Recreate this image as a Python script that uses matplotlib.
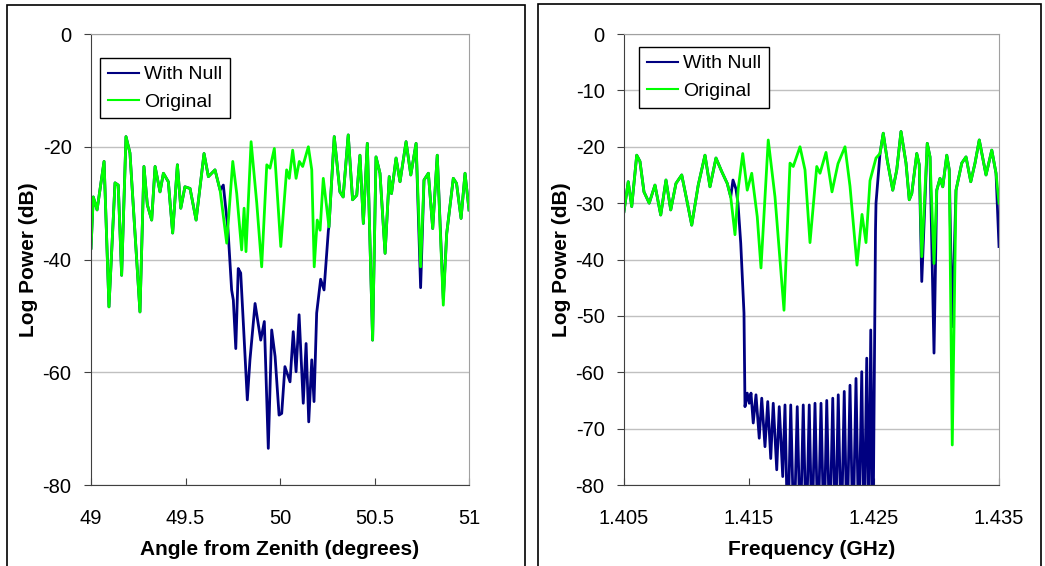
import matplotlib
matplotlib.use("Agg")
import matplotlib.pyplot as plt
from matplotlib.patches import Rectangle

plt.rcParams['font.family'] = ['Liberation Sans', 'DejaVu Sans']
plt.rcParams['axes.unicode_minus'] = False

NAVY = '#000080'
LIME = '#00ff00'

# ---- left panel: angle sweep ----
# shared start (both curves on top of each other)
ang_head = [49.000, 49.012, 49.032, 49.069, 49.095, 49.127, 49.144, 49.162, 49.185,
            49.206, 49.259, 49.280, 49.298, 49.321, 49.339, 49.365, 49.383, 49.409,
            49.432, 49.457, 49.475, 49.497, 49.524, 49.556, 49.598, 49.621, 49.656,
            49.683]
db_head = [-38.0, -28.9, -31.2, -22.6, -48.4, -26.4, -26.8, -42.8, -18.2,
           -21.1, -49.3, -23.5, -30.3, -33.0, -23.5, -28.0, -24.7, -26.2,
           -35.3, -23.2, -30.9, -27.1, -27.4, -33.0, -21.2, -25.3, -24.1,
           -27.7]

# original pattern across the null
ang_orig_mid = [49.718, 49.750, 49.771, 49.797, 49.810, 49.820, 49.847, 49.877, 49.903,
                49.930, 49.947, 49.970, 50.004, 50.035, 50.049, 50.067, 50.085, 50.102,
                50.120, 50.150, 50.168, 50.181, 50.197, 50.212, 50.229]
db_orig_mid = [-37.1, -22.6, -28.3, -38.3, -30.9, -38.6, -19.1, -30.0, -41.3,
               -23.2, -23.8, -20.3, -37.7, -24.1, -25.6, -20.6, -25.6, -22.6,
               -23.5, -20.0, -24.1, -41.3, -33.0, -34.8, -25.6]

# nulled pattern
ang_null_mid = [49.700, 49.725, 49.744, 49.753, 49.766, 49.779, 49.792, 49.806, 49.827,
                49.841, 49.868, 49.898, 49.917, 49.938, 49.956, 49.974, 49.995, 50.009,
                50.026, 50.053, 50.070, 50.085, 50.101, 50.123, 50.138, 50.152, 50.168,
                50.180, 50.194, 50.215, 50.233, 50.256]
db_null_mid = [-26.8, -34.8, -45.4, -47.2, -55.8, -41.6, -42.4, -51.3, -64.9,
               -57.8, -47.8, -54.3, -51.0, -73.5, -52.5, -57.2, -67.6, -67.3,
               -59.0, -61.7, -52.8, -59.9, -49.8, -65.5, -54.9, -68.8, -57.8,
               -65.2, -49.5, -43.5, -45.4, -34.8]

ang_tail = [50.259, 50.287, 50.317, 50.334, 50.361, 50.384, 50.406, 50.423, 50.441,
            50.462, 50.490, 50.508, 50.529, 50.556, 50.578, 50.590, 50.614, 50.635,
            50.667, 50.692, 50.720, 50.744, 50.762, 50.785, 50.808, 50.832, 50.864,
            50.882, 50.917, 50.934, 50.958, 50.979, 51.000]
db_tail_orig = [-34.2, -18.2, -28.0, -28.9, -17.9, -29.4, -28.6, -21.5, -33.6,
                -19.4, -54.3, -21.8, -24.7, -38.9, -25.3, -28.3, -22.0, -26.2,
                -19.1, -25.0, -19.4, -41.3, -25.9, -24.7, -34.5, -21.5, -48.1,
                -35.4, -25.6, -26.5, -32.7, -24.7, -31.2]
db_tail_null = [-34.2, -18.2, -28.0, -28.9, -17.9, -29.4, -28.6, -21.5, -33.6,
                -19.4, -54.3, -21.8, -24.7, -38.9, -25.3, -28.3, -22.0, -26.2,
                -19.1, -25.0, -19.4, -45.0, -25.9, -24.7, -34.5, -21.5, -47.0,
                -35.4, -25.6, -26.5, -32.7, -24.7, -31.2]

# ---- right panel: frequency sweep ----
f_head = [1.40500, 1.40534, 1.40562, 1.40602, 1.40628, 1.40660, 1.40702, 1.40748,
          1.40794, 1.40836, 1.40874, 1.40916, 1.40962, 1.41002, 1.41042, 1.41094,
          1.41148, 1.41188, 1.41236, 1.41282, 1.41326, 1.41354]
pw_head = [-31.5, -26.2, -30.6, -21.5, -22.6, -28.0, -30.0, -26.8,
           -32.1, -25.9, -31.2, -26.5, -25.0, -29.4, -33.9, -26.8,
           -21.5, -27.1, -22.0, -24.4, -26.5, -28.9]

f_orig_mid = [1.41388, 1.41414, 1.41450, 1.41486, 1.41522, 1.41566, 1.41596, 1.41654,
              1.41708, 1.41780, 1.41828, 1.41854, 1.41908, 1.41948, 1.41988, 1.42042,
              1.42068, 1.42116, 1.42164, 1.42212, 1.42268, 1.42308, 1.42364, 1.42404,
              1.42436, 1.42468, 1.42516]
pw_orig_mid = [-35.6, -27.4, -21.2, -27.7, -24.7, -32.4, -41.5, -18.8,
               -28.9, -49.0, -22.9, -23.5, -20.0, -24.1, -37.0, -23.5,
               -24.7, -21.0, -28.0, -23.0, -20.0, -27.0, -41.0, -32.0,
               -37.0, -26.0, -22.0]

f_null_mid = [1.41372, 1.41396, 1.41412, 1.41434, 1.41460, 1.41468, 1.41486, 1.41502,
              1.41516, 1.41534, 1.41556, 1.41582, 1.41602, 1.41628, 1.41650, 1.41674,
              1.41694, 1.41722, 1.41742, 1.41770, 1.41788, 1.41810, 1.41834, 1.41860,
              1.41886, 1.41910, 1.41934, 1.41958, 1.41982, 1.42004, 1.42028, 1.42052,
              1.42076, 1.42100, 1.42122, 1.42146, 1.42170, 1.42192, 1.42214, 1.42238,
              1.42262, 1.42284, 1.42308, 1.42332, 1.42356, 1.42378, 1.42402, 1.42420,
              1.42442, 1.42458, 1.42474, 1.42492, 1.42512, 1.42516]
pw_null_mid = [-25.9, -27.5, -30.0, -37.1, -49.5, -66.1, -63.7, -65.5,
               -63.7, -69.0, -64.0, -71.7, -64.6, -73.2, -65.2, -75.3,
               -65.5, -77.3, -66.1, -78.5, -65.8, -90.0, -65.8, -90.0,
               -66.1, -90.0, -65.8, -90.0, -65.8, -90.0, -65.5, -90.0,
               -65.5, -90.0, -65.0, -90.0, -64.6, -90.0, -64.0, -90.0,
               -63.4, -90.0, -62.3, -90.0, -61.1, -90.0, -59.9, -90.0,
               -57.5, -90.0, -52.5, -90.0, -34.8, -30.0]

f_tail = [1.42548, 1.42574, 1.42606, 1.42650, 1.42682, 1.42716, 1.42756, 1.42782,
          1.42802, 1.42842, 1.42862, 1.42882, 1.42926, 1.42948, 1.42980, 1.43002,
          1.43028, 1.43050, 1.43082, 1.43102, 1.43126, 1.43156, 1.43202, 1.43236,
          1.43274, 1.43308, 1.43342, 1.43396, 1.43442, 1.43476, 1.43500]
pw_tail_orig = [-21.2, -17.6, -22.4, -27.7, -24.1, -17.3, -22.9, -29.4,
                -28.3, -21.2, -23.2, -39.5, -19.4, -21.8, -40.7, -27.7,
                -25.6, -27.1, -21.5, -24.1, -72.9, -27.7, -22.9, -21.8,
                -26.2, -22.9, -18.8, -25.0, -20.6, -24.7, -30.0]
pw_tail_null = [-21.2, -17.6, -22.4, -27.7, -24.1, -17.3, -22.9, -29.4,
                -28.3, -21.2, -23.2, -43.9, -19.4, -21.8, -56.6, -27.7,
                -25.6, -27.1, -21.5, -24.1, -51.9, -27.7, -22.9, -21.8,
                -26.2, -22.9, -18.8, -25.0, -20.6, -24.7, -37.7]


def style_axes(ax, yticks, xticks, xticklabels, xlabel):
    ax.set_yticks(yticks)
    ax.set_ylim(-80, 0)
    ax.set_xticks(xticks)
    ax.set_xticklabels(xticklabels)
    ax.grid(axis='y', color='#c0c0c0', lw=1)
    ax.set_axisbelow(True)
    for side in ('top', 'right'):
        ax.spines[side].set_color('#a0a0a0')
    for side in ('left', 'bottom'):
        ax.spines[side].set_color('#404040')
    ax.tick_params(axis='y', direction='out', length=5, pad=9, labelsize=14.5, color='#404040')
    ax.tick_params(axis='x', direction='in', length=5, pad=17, labelsize=14.5, color='#404040')
    ax.set_xlabel(xlabel, fontsize=15, fontweight='bold', labelpad=9)
    ax.set_ylabel('Log Power (dB)', fontsize=15, fontweight='bold', labelpad=3)


fig = plt.figure(figsize=(10.45, 5.66), dpi=100)

# outer chart frames
fig.patches.append(Rectangle((0.0067, -0.05), 0.4957, 1.041, transform=fig.transFigure,
                             fill=False, edgecolor='black', lw=1.2))
fig.patches.append(Rectangle((0.5148, -0.05), 0.4814, 1.043, transform=fig.transFigure,
                             fill=False, edgecolor='black', lw=1.2))

ax1 = fig.add_axes([0.0871, 0.1431, 0.3617, 0.7968])
ax1.plot(ang_head + ang_null_mid + ang_tail, db_head + db_null_mid + db_tail_null,
         color=NAVY, lw=2, label='With Null')
ax1.plot(ang_head + ang_orig_mid + ang_tail, db_head + db_orig_mid + db_tail_orig,
         color=LIME, lw=2, label='Original')
ax1.set_xlim(49, 51)
style_axes(ax1, [0, -20, -40, -60, -80], [49, 49.5, 50, 50.5, 51],
           ['49', '49.5', '50', '50.5', '51'], 'Angle from Zenith (degrees)')

ax2 = fig.add_axes([0.5971, 0.1431, 0.3589, 0.7968])
ax2.plot(f_head + f_null_mid + f_tail, pw_head + pw_null_mid + pw_tail_null,
         color=NAVY, lw=2, label='With Null')
ax2.plot(f_head + f_orig_mid + f_tail, pw_head + pw_orig_mid + pw_tail_orig,
         color=LIME, lw=2, label='Original')
ax2.set_xlim(1.405, 1.435)
style_axes(ax2, list(range(0, -81, -10)), [1.405, 1.415, 1.425, 1.435],
           ['1.405', '1.415', '1.425', '1.435'], 'Frequency (GHz)')

for ax, anchor in ((ax1, (0.024, 0.947)), (ax2, (0.04, 0.971))):
    leg = ax.legend(loc='upper left', bbox_to_anchor=anchor, borderaxespad=0,
                    fontsize=14, fancybox=False, framealpha=1, edgecolor='black',
                    handlelength=1.6, handletextpad=0.25, labelspacing=0.5,
                    borderpad=0.4)
    leg.get_frame().set_linewidth(1)
    for line in leg.get_lines():
        line.set_linewidth(1.5)

fig.savefig('out.png', dpi=100)
